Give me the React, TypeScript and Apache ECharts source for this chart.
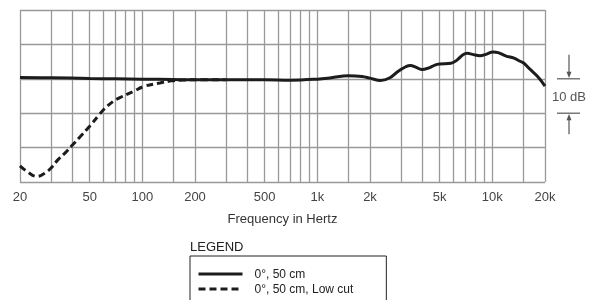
import React, { useEffect, useRef } from "react";
import * as echarts from "echarts";

const gridFreqs = [
  20, 30, 40, 50, 60, 70, 80, 90, 100, 150, 200, 300, 400, 500, 600, 700, 800, 900,
  1000, 1500, 2000, 3000, 4000, 5000, 6000, 7000, 8000, 9000, 10000, 15000, 20000,
];
const labelFreqs = [20, 50, 100, 200, 500, 1000, 2000, 5000, 10000, 20000];

const seriesNames = ["0°, 50 cm", "0°, 50 cm, Low cut"];

const solidFreqs = [
  20, 30, 50, 70, 100, 150, 200, 300, 500, 700, 1000, 1200, 1500, 1800, 2000, 2300, 2600,
  2900, 3200, 3400, 3650, 3950, 4300, 4700, 5000, 5800, 6300, 6800, 7200, 7700, 8500, 9200,
  10100, 10800, 12000, 13300, 14400, 15100, 16400, 18200, 20000,
];
const solidDb = [
  0.4, 0.3, 0.1, 0.0, -0.1, -0.2, -0.3, -0.3, -0.3, -0.4, -0.1, 0.3, 0.9, 0.7, 0.2, -0.5, 0.3,
  2.2, 3.5, 3.9, 3.4, 2.7, 3.1, 4.0, 4.3, 4.5, 5.5, 7.0, 7.4, 7.1, 6.7, 7.1,
  7.8, 7.6, 6.6, 6.0, 5.1, 4.6, 2.8, 0.6, -2.1,
];

const lowCutFreqs = [
  20, 22, 25, 27.8, 30, 33, 36.5, 40, 44, 50, 57, 60, 68, 75, 89, 101, 126, 147, 172, 200, 300,
];
const lowCutDb = [
  -25.3, -27.0, -28.4, -27.4, -26.0, -23.5, -21.4, -19.2, -16.9, -13.8, -10.3, -9.0, -6.6,
  -5.4, -3.7, -2.3, -1.2, -0.6, -0.35, -0.3, -0.3,
];

const yMin = -30;
const yMax = 20;
const yStep = 10;

const FONT = "'Liberation Sans', Arial, Helvetica, sans-serif";

function fmtFreq(v: number): string {
  const f = Math.round(Math.pow(10, v));
  return f >= 1000 ? f / 1000 + "k" : String(f);
}

export default function App() {
  const ref = useRef<HTMLDivElement>(null);

  useEffect(() => {
    if (!ref.current) return;
    const chart = echarts.init(ref.current, null, { renderer: "svg" });
    const toXY = (fs: number[], dbs: number[]) => fs.map((f, i) => [Math.log10(f), dbs[i]]);

    chart.setOption({
      animation: false,
      textStyle: { fontFamily: FONT },
      grid: { left: 20, right: 51, top: 10, bottom: 118, containLabel: false },
      title: {
        text: "LEGEND",
        left: 190,
        top: 240,
        padding: 0,
        textStyle: { fontSize: 13, fontWeight: "normal", color: "#222", fontFamily: FONT },
      },
      legend: {
        orient: "vertical",
        left: 190,
        top: 256,
        height: 60,
        data: seriesNames,
        itemWidth: 44,
        itemHeight: 10,
        itemGap: 3,
        padding: [12, 33, 10, 7],
        borderColor: "#222",
        borderWidth: 1,
        itemStyle: { opacity: 0, borderWidth: 0 },
        lineStyle: { width: 3 },
        textStyle: { fontSize: 12, color: "#222", fontFamily: FONT, padding: [0, 0, 0, 7] },
      },
      xAxis: {
        type: "value",
        min: Math.log10(20),
        max: Math.log10(20000),
        axisLine: { show: false },
        axisTick: { show: false, customValues: gridFreqs.map((f) => Math.log10(f)) },
        axisLabel: {
          customValues: labelFreqs.map((f) => Math.log10(f)),
          formatter: (v: number) => fmtFreq(v),
          fontSize: 13,
          color: "#444",
          margin: 8,
          fontFamily: FONT,
        },
        splitLine: { show: true, lineStyle: { color: "#999", width: 1.3 } },
        name: "Frequency in Hertz",
        nameLocation: "middle",
        nameGap: 30,
        nameTextStyle: { fontSize: 13, color: "#333", fontFamily: FONT },
      },
      yAxis: {
        type: "value",
        min: yMin,
        max: yMax,
        interval: yStep,
        axisLine: { show: false },
        axisTick: { show: false },
        axisLabel: { show: false },
        splitLine: { show: true, lineStyle: { color: "#999", width: 1.3 } },
      },
      series: [
        {
          name: seriesNames[1],
          type: "line",
          data: toXY(lowCutFreqs, lowCutDb),
          smooth: 0.4,
          showSymbol: false,
          symbol: "none",
          lineStyle: { color: "#1c1c1c", width: 3, type: [7, 4] },
          itemStyle: { color: "#1c1c1c" },
          z: 2,
        },
        {
          name: seriesNames[0],
          type: "line",
          data: toXY(solidFreqs, solidDb),
          smooth: 0.4,
          showSymbol: false,
          symbol: "none",
          lineStyle: { color: "#1c1c1c", width: 3 },
          itemStyle: { color: "#1c1c1c" },
          z: 3,
        },
      ],
    });

    const y0 = chart.convertToPixel({ yAxisIndex: 0 }, 0) as number;
    const y1 = chart.convertToPixel({ yAxisIndex: 0 }, -10) as number;
    const xr = chart.convertToPixel({ xAxisIndex: 0 }, Math.log10(20000)) as number;
    const cx = xr + 24;
    const stroke = { stroke: "#555", lineWidth: 1.2 };
    chart.setOption({
      graphic: [
        { type: "line", shape: { x1: cx, y1: y0 - 24, x2: cx, y2: y0 - 5 }, style: stroke },
        {
          type: "polygon",
          shape: { points: [[cx - 2.5, y0 - 7], [cx + 2.5, y0 - 7], [cx, y0 - 0.8]] },
          style: { fill: "#555" },
        },
        { type: "line", shape: { x1: cx - 12, y1: y0, x2: cx + 11, y2: y0 }, style: stroke },
        {
          type: "text",
          x: cx,
          y: (y0 + y1) / 2,
          style: {
            text: "10 dB",
            align: "center",
            verticalAlign: "middle",
            fontSize: 13,
            fill: "#555",
            fontFamily: FONT,
          },
        },
        { type: "line", shape: { x1: cx - 12, y1: y1, x2: cx + 11, y2: y1 }, style: stroke },
        {
          type: "polygon",
          shape: { points: [[cx - 2.5, y1 + 7], [cx + 2.5, y1 + 7], [cx, y1 + 0.8]] },
          style: { fill: "#555" },
        },
        { type: "line", shape: { x1: cx, y1: y1 + 5, x2: cx, y2: y1 + 21 }, style: stroke },
      ],
    });

    return () => chart.dispose();
  }, []);

  return (
    <div
      ref={ref}
      style={{ position: "fixed", left: 0, top: 0, width: 596, height: 300 }}
    />
  );
}
